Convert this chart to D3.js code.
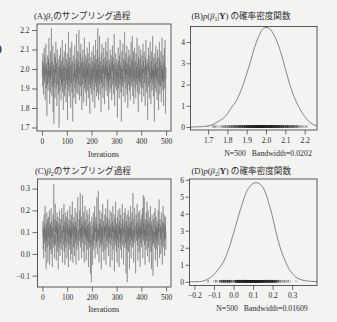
<!DOCTYPE html>
<html>
<head>
<meta charset="utf-8">
<script src="https://cdn.jsdelivr.net/npm/d3@7"></script>
<style>
  html, body { margin: 0; padding: 0; background: #f3f3f1; }
  svg { display: block; }
  text { fill: #2b2b2b; font-family: "Liberation Serif", "DejaVu Serif", "Noto Sans CJK JP", serif; }
</style>
</head>
<body>
<svg id="chart" width="337" height="322"></svg>
<script>
// MCMC draws of beta1 (iterations 1..500)
const beta1Samples = [
  1.96, 2.04, 1.91, 2.08, 1.99, 1.87, 2.02, 1.95, 2.11, 1.93, 1.98, 2.06, 1.84, 2.01, 1.97, 2.13, 1.90, 2.03, 1.94, 1.76, 2.00, 1.92, 2.07, 1.98, 1.89,
  2.05, 1.96, 2.16, 1.93, 1.99, 1.82, 2.03, 1.95, 2.09, 1.88, 2.01, 1.97, 2.21, 1.94, 1.86, 2.04, 1.99, 1.91, 2.12, 1.78, 1.97, 2.02, 1.72, 1.95, 2.08,
  1.93, 2.00, 1.85, 2.06, 1.98, 2.14, 1.90, 1.96, 2.03, 1.81, 1.99, 2.10, 1.92, 1.97, 2.05, 1.87, 1.94, 2.01, 1.70, 1.96, 2.07, 1.89, 2.02, 1.95, 2.11,
  1.98, 1.84, 2.04, 1.91, 2.00, 1.93, 2.15, 1.88, 1.97, 2.06, 1.79, 1.99, 2.02, 1.94, 2.09, 1.86, 2.01, 1.96, 1.90, 2.13, 1.97, 1.83, 2.05, 1.95, 2.00,
  1.92, 2.08, 1.74, 1.98, 2.03, 1.89, 2.19, 1.94, 2.01, 1.86, 2.06, 1.97, 1.91, 2.11, 1.96, 1.80, 2.02, 1.99, 1.93, 2.14, 1.88, 2.04, 1.95, 1.73, 2.00,
  2.07, 1.94, 1.98, 1.85, 2.03, 1.96, 2.12, 1.90, 2.00, 1.97, 1.82, 2.05, 1.93, 2.18, 1.99, 1.88, 2.02, 1.95, 2.09, 1.87, 1.99, 2.04, 1.92, 2.20, 1.96,
  1.84, 2.01, 1.97, 2.08, 1.91, 1.99, 2.13, 1.86, 2.03, 1.94, 1.79, 2.06, 1.98, 1.92, 2.10, 1.96, 2.00, 1.83, 2.04, 1.95, 2.16, 1.90, 1.98, 2.02, 1.88,
  2.07, 1.93, 1.99, 1.81, 2.05, 1.97, 2.11, 1.89, 2.01, 1.95, 2.08, 1.85, 1.98, 2.03, 1.92, 2.14, 1.96, 1.77, 2.02, 1.99, 1.90, 2.06, 1.94, 2.00, 1.87,
  2.09, 1.96, 1.92, 2.04, 1.83, 1.99, 2.12, 1.95, 2.01, 1.89, 2.07, 1.97, 1.80, 2.03, 1.93, 2.15, 1.98, 1.91, 2.05, 1.86, 2.00, 1.96, 2.10, 1.88, 2.21,
  1.94, 2.02, 1.84, 1.99, 2.06, 1.92, 2.17, 1.97, 1.87, 2.04, 1.95, 2.00, 1.78, 2.08, 1.93, 1.99, 2.13, 1.90, 2.02, 1.96, 1.85, 2.05, 1.98, 2.11, 1.91,
  2.00, 1.82, 2.06, 1.95, 2.02, 1.97, 2.14, 1.89, 1.99, 2.04, 1.93, 2.09, 1.86, 2.01, 1.96, 2.16, 1.91, 1.98, 1.79, 2.05, 1.94, 2.03, 1.99, 1.88, 2.10,
  1.95, 2.01, 1.90, 2.07, 1.97, 1.84, 2.04, 1.99, 2.12, 1.92, 1.98, 2.06, 1.87, 2.02, 1.94, 2.18, 1.96, 1.81, 2.03, 1.99, 1.91, 2.08, 1.97, 2.00, 1.89,
  2.05, 1.93, 1.98, 1.75, 2.02, 1.96, 2.11, 1.90, 2.04, 1.97, 1.85, 2.07, 1.99, 1.92, 2.15, 1.95, 2.01, 1.88, 2.03, 1.73, 1.97, 2.09, 1.94, 2.00, 1.91,
  2.13, 1.96, 1.86, 2.05, 1.99, 2.02, 1.93, 2.19, 1.98, 1.83, 2.04, 1.95, 2.08, 1.90, 2.00, 1.97, 2.12, 1.87, 2.03, 1.94, 1.80, 2.06, 1.99, 1.92, 2.10,
  1.96, 2.02, 1.89, 2.07, 1.97, 1.84, 2.01, 1.95, 2.14, 1.91, 1.99, 2.05, 1.93, 2.17, 1.98, 1.86, 2.03, 1.96, 2.09, 1.82, 2.00, 1.94, 2.11, 1.97, 1.90,
  2.04, 1.98, 1.85, 2.08, 1.95, 2.01, 1.92, 2.16, 1.97, 1.88, 2.03, 1.99, 1.78, 2.06, 1.94, 2.12, 1.96, 2.00, 1.87, 2.05, 1.93, 1.99, 2.10, 1.91, 2.02,
  1.97, 1.83, 2.07, 1.95, 2.00, 1.90, 2.13, 1.98, 2.04, 1.86, 1.99, 2.09, 1.93, 2.01, 1.96, 1.81, 2.06, 1.97, 2.15, 1.92, 2.02, 1.88, 1.98, 2.05, 1.94,
  1.74, 2.03, 1.99, 2.11, 1.91, 1.96, 2.07, 1.85, 2.01, 1.97, 2.14, 1.93, 1.98, 1.82, 2.04, 1.95, 2.09, 1.89, 2.00, 1.96, 2.17, 1.92, 1.99, 1.86, 2.06,
  1.94, 2.02, 1.73, 1.98, 2.08, 1.90, 2.03, 1.96, 2.12, 1.88, 2.00, 1.95, 2.05, 1.84, 1.99, 2.10, 1.93, 2.01, 1.97, 1.79, 2.06, 1.92, 2.14, 1.98, 1.87,
  2.04, 1.96, 1.91, 2.09, 1.99, 1.83, 2.02, 1.95, 2.16, 1.93, 2.00, 1.89, 2.07, 1.97, 1.81, 2.03, 1.94, 2.11, 1.98, 1.90, 2.15, 1.96, 1.77, 2.01, 1.95
];

// MCMC draws of beta2
const beta2Samples = [
  0.08, 0.15, 0.02, 0.12, -0.02, 0.10, 0.18, 0.05, 0.13, 0.07, 0.22, 0.01, 0.11, 0.09, -0.07, 0.14, 0.06, 0.19, 0.03, 0.10, 0.16, -0.04, 0.12, 0.08, 0.17,
  0.04, 0.11, 0.20, -0.05, 0.09, 0.14, 0.02, 0.13, 0.07, 0.21, 0.00, 0.10, 0.15, 0.06, -0.06, 0.12, 0.08, 0.18, 0.03, 0.11, 0.32, 0.05, 0.09, -0.02, 0.16,
  0.10, 0.23, 0.04, 0.13, 0.07, -0.03, 0.15, 0.09, 0.19, 0.01, 0.12, 0.06, 0.17, -0.07, 0.10, 0.14, 0.03, 0.11, 0.20, 0.08, -0.01, 0.13, 0.05, 0.16, 0.09,
  0.02, 0.14, 0.21, 0.07, 0.11, -0.04, 0.09, 0.18, 0.04, 0.13, 0.10, 0.23, 0.01, 0.08, 0.15, -0.05, 0.12, 0.06, 0.19, 0.03, 0.11, 0.17, 0.07, -0.02, 0.14,
  0.09, 0.20, 0.05, 0.12, -0.06, 0.10, 0.16, 0.02, 0.13, 0.08, 0.22, 0.04, 0.11, -0.03, 0.15, 0.07, 0.18, 0.00, 0.12, 0.09, 0.24, 0.06, -0.04, 0.14, 0.10,
  0.03, 0.17, 0.08, 0.13, -0.01, 0.11, 0.21, 0.05, 0.15, 0.09, -0.05, 0.12, 0.07, 0.19, 0.02, 0.10, 0.14, 0.26, 0.04, 0.11, 0.08, -0.03, 0.16, 0.06, 0.13,
  0.20, 0.09, 0.28, 0.03, 0.12, 0.07, 0.17, -0.02, 0.11, 0.14, 0.05, 0.27, 0.08, 0.13, 0.01, 0.10, 0.19, 0.06, -0.04, 0.15, 0.09, 0.22, 0.04, 0.12, 0.07,
  0.16, -0.03, 0.11, 0.08, 0.20, 0.02, 0.13, 0.06, 0.18, 0.10, -0.06, 0.14, 0.05, 0.09, 0.21, 0.03, 0.12, 0.07, -0.09, 0.15, 0.10, 0.01, -0.13, 0.11, 0.17,
  0.04, 0.09, -0.05, 0.13, 0.07, 0.19, 0.02, 0.11, 0.15, 0.06, 0.22, 0.08, -0.02, 0.12, 0.10, 0.17, 0.03, 0.14, 0.05, 0.26, 0.09, 0.00, 0.12, 0.07, 0.18,
  0.29, 0.06, 0.11, -0.04, 0.14, 0.08, 0.20, 0.03, 0.10, 0.16, 0.05, 0.13, -0.07, 0.09, 0.19, 0.04, 0.12, 0.07, 0.23, 0.01, 0.11, 0.15, 0.06, -0.03, 0.13,
  0.08, 0.18, 0.02, 0.12, 0.10, 0.21, -0.05, 0.09, 0.14, 0.06, 0.17, 0.03, 0.11, 0.25, 0.07, 0.13, -0.01, 0.10, 0.16, 0.05, 0.12, 0.08, 0.20, -0.06, 0.11,
  0.14, 0.04, 0.09, 0.19, 0.07, 0.12, -0.03, 0.15, 0.10, 0.22, 0.02, 0.08, 0.13, 0.06, 0.18, -0.08, 0.11, 0.09, 0.16, 0.04, 0.24, 0.07, 0.12, 0.01, 0.14,
  0.10, -0.04, 0.17, 0.06, 0.11, 0.20, 0.03, 0.13, 0.08, -0.06, 0.15, 0.09, 0.21, 0.05, 0.12, 0.02, 0.18, 0.07, 0.11, -0.02, 0.14, 0.09, 0.23, 0.04, 0.10,
  0.16, 0.06, -0.05, 0.12, 0.08, 0.19, 0.03, 0.14, 0.10, 0.21, 0.05, 0.11, -0.09, 0.07, 0.15, 0.02, 0.18, -0.13, 0.09, 0.13, 0.06, 0.20, 0.01, 0.12, 0.08,
  0.17, -0.07, 0.10, 0.14, 0.04, 0.22, 0.08, 0.12, -0.02, 0.15, 0.06, 0.19, 0.09, 0.03, 0.13, 0.28, 0.07, 0.11, -0.04, 0.16, 0.05, 0.10, 0.21, 0.08, 0.13,
  0.02, -0.09, 0.12, 0.18, 0.06, 0.14, 0.09, 0.23, 0.04, 0.11, -0.03, 0.15, 0.07, 0.19, 0.10, 0.01, 0.13, 0.08, 0.20, -0.06, 0.12, 0.05, 0.16, 0.09, 0.14,
  0.03, 0.18, 0.10, 0.07, 0.21, -0.02, 0.12, 0.27, 0.06, 0.14, 0.09, 0.26, 0.04, 0.11, -0.05, 0.16, 0.08, 0.13, 0.02, 0.19, 0.10, 0.06, 0.24, 0.12, -0.01,
  0.15, 0.08, 0.20, 0.03, 0.11, 0.14, -0.04, 0.09, 0.17, 0.06, 0.12, 0.22, 0.01, 0.10, 0.15, -0.07, 0.13, 0.08, 0.18, 0.04, 0.11, -0.10, 0.09, 0.16, 0.05,
  0.12, 0.19, 0.03, 0.10, 0.07, 0.21, -0.03, 0.13, 0.09, 0.17, 0.02, 0.11, 0.06, 0.15, -0.06, 0.12, 0.08, 0.20, 0.04, 0.14, 0.10, 0.25, 0.05, -0.02, 0.11,
  0.16, 0.07, 0.13, 0.00, 0.09, 0.19, 0.04, 0.12, 0.08, -0.05, 0.15, 0.10, 0.22, 0.03, 0.11, 0.14, 0.06, 0.18, -0.01, 0.09, 0.13, 0.07, 0.17, 0.02, 0.10
];

const beta1DensX = [1.609, 1.65, 1.70, 1.73, 1.76, 1.78, 1.80, 1.82, 1.85, 1.88, 1.90, 1.92, 1.94, 1.96, 1.98, 2.00, 2.02, 2.04, 2.06, 2.08, 2.10, 2.12, 2.14, 2.17, 2.20, 2.23, 2.264];
const beta1DensY = [0.00, 0.01, 0.05, 0.14, 0.30, 0.42, 0.62, 0.90, 1.30, 1.95, 2.50, 3.10, 3.72, 4.22, 4.58, 4.69, 4.62, 4.35, 3.95, 3.40, 2.75, 2.10, 1.55, 0.95, 0.50, 0.20, 0.05];
const beta2DensX = [-0.225, -0.20, -0.175, -0.15, -0.124, -0.10, -0.09, -0.07, -0.047, -0.025, -0.005, 0.01, 0.029, 0.045, 0.063, 0.08, 0.097, 0.11, 0.122, 0.135, 0.147, 0.165, 0.181, 0.20, 0.215, 0.23, 0.249, 0.265, 0.283, 0.30, 0.317, 0.335, 0.351, 0.38, 0.40, 0.427];
const beta2DensY = [0.00, 0.00, 0.01, 0.06, 0.20, 0.42, 0.55, 0.85, 1.27, 1.90, 2.65, 3.25, 4.00, 4.60, 5.20, 5.55, 5.75, 5.82, 5.82, 5.75, 5.60, 5.20, 4.60, 3.80, 3.04, 2.35, 1.67, 1.20, 0.78, 0.50, 0.29, 0.17, 0.10, 0.04, 0.02, 0.01];

// tick labels
const iterTicks = [0, 100, 200, 300, 400, 500];
const beta1TraceTicks = [1.7, 1.8, 1.9, 2.0, 2.1, 2.2];
const beta2TraceTicks = [-0.1, 0.0, 0.1, 0.2, 0.3];
const beta1DensXTicks = [1.7, 1.8, 1.9, 2.0, 2.1, 2.2];
const beta1DensYTicks = [0, 1, 2, 3, 4];
const beta2DensXTicks = [-0.2, -0.1, 0.0, 0.1, 0.2, 0.3];
const beta2DensYTicks = [0, 1, 2, 3, 4, 5, 6];

const bandwidth1 = "0.0202";
const bandwidth2 = "0.01609";

const svg = d3.select('#chart');
const ink = '#333';

// small helper: title with italic beta and subscript
function addTitle(x, y, letter, idx, kind) {
  const t = svg.append('text').attr('x', x).attr('y', y).style('font-size', '8.6px');
  t.append('tspan').text('(' + letter + ')');
  if (kind === 'trace') {
    t.append('tspan').style('font-style', 'italic').text('β');
    t.append('tspan').attr('dy', 2).style('font-size', '6px').text(idx);
    t.append('tspan').attr('dy', -2).text('のサンプリング過程');
  } else {
    t.append('tspan').style('font-style', 'italic').text('p');
    t.append('tspan').text('(');
    t.append('tspan').style('font-style', 'italic').text('β');
    t.append('tspan').attr('dy', 2).style('font-size', '6px').text(idx);
    t.append('tspan').attr('dy', -2).text('|');
    t.append('tspan').style('font-weight', 'bold').text('Y');
    t.append('tspan').text(') の確率密度関数');
  }
}

function styleAxis(g) {
  g.select('.domain').remove();
  g.selectAll('line').attr('stroke', ink).attr('stroke-width', 0.7);
  g.selectAll('text')
    .style('font-family', '"Liberation Serif", "DejaVu Serif", serif')
    .style('font-size', '7.5px')
    .style('fill', '#2b2b2b');
}

function drawTrace(box, samples, yDomain, yTicks, xlabelY) {
  const x = d3.scaleLinear().domain([-19.96, 519.96]).range([box.left, box.right]);
  const y = d3.scaleLinear().domain(yDomain).range([box.bottom, box.top]);

  svg.append('path')
    .datum(samples)
    .attr('fill', 'none')
    .attr('stroke', '#5a5a5a')
    .attr('stroke-width', 0.45)
    .attr('stroke-opacity', 0.9)
    .attr('d', d3.line().x((d, i) => x(i + 1)).y(d => y(d)));

  svg.append('rect')
    .attr('x', box.left).attr('y', box.top)
    .attr('width', box.right - box.left).attr('height', box.bottom - box.top)
    .attr('fill', 'none').attr('stroke', ink).attr('stroke-width', 0.8);

  svg.append('g')
    .attr('transform', `translate(0,${box.bottom})`)
    .call(d3.axisBottom(x).tickValues(iterTicks).tickSize(4.5).tickPadding(3).tickFormat(d3.format('d')))
    .call(styleAxis);

  svg.append('g')
    .attr('transform', `translate(${box.left},0)`)
    .call(d3.axisLeft(y).tickValues(yTicks).tickSize(5).tickPadding(2.5).tickFormat(d3.format('.1f')))
    .call(styleAxis)
    .selectAll('text').text(d => d3.format('.1f')(d).replace('-', '\u2212'));

  svg.append('text')
    .attr('x', (box.left + box.right) / 2 - 0.5)
    .attr('y', xlabelY)
    .attr('text-anchor', 'middle')
    .style('font-size', '8.2px')
    .text('Iterations');
}

function drawDensity(box, densX, densY, samples, xDomain, yDomain, xTicks, yTicks, bw, noteX, noteY) {
  const x = d3.scaleLinear().domain(xDomain).range([box.left, box.right]);
  const y = d3.scaleLinear().domain(yDomain).range([box.bottom, box.top]);
  const pts = densX.map((v, i) => [v, densY[i]]);

  // rug of the draws along the zero line (overlapping ticks build a dark band)
  svg.append('g')
    .selectAll('line')
    .data(samples)
    .join('line')
      .attr('x1', d => x(d)).attr('x2', d => x(d))
      .attr('y1', y(0) - 1.8).attr('y2', y(0) + 0.8)
      .attr('stroke', '#222')
      .attr('stroke-width', 1.6)
      .attr('stroke-opacity', 0.22);

  svg.append('path')
    .datum(pts)
    .attr('fill', 'none')
    .attr('stroke', '#555')
    .attr('stroke-width', 0.7)
    .attr('d', d3.line().x(d => x(d[0])).y(d => y(d[1])).curve(d3.curveMonotoneX));

  svg.append('rect')
    .attr('x', box.left).attr('y', box.top)
    .attr('width', box.right - box.left).attr('height', box.bottom - box.top)
    .attr('fill', 'none').attr('stroke', ink).attr('stroke-width', 0.8);

  svg.append('g')
    .attr('transform', `translate(0,${box.bottom})`)
    .call(d3.axisBottom(x).tickValues(xTicks).tickSize(4.5).tickPadding(3))
    .call(styleAxis)
    .selectAll('text').text(d => d3.format('.1f')(d).replace('-', '\u2212'));

  svg.append('g')
    .attr('transform', `translate(${box.left},0)`)
    .call(d3.axisLeft(y).tickValues(yTicks).tickSize(4).tickPadding(1.5).tickFormat(d3.format('d')))
    .call(styleAxis);

  svg.append('text')
    .attr('x', noteX)
    .attr('y', noteY)
    .attr('text-anchor', 'middle')
    .style('font-size', '7.8px')
    .attr('xml:space', 'preserve')
    .text('N=' + samples.length + '   Bandwidth=' + bw);
}

// edge of the neighbouring page text
svg.append('text').attr('x', -1.5).attr('y', 52).style('font-size', '10px').style('font-weight', 'bold').text(')');

// (A) trace of beta1
addTitle(34, 18.5, 'A', '1', 'trace');
drawTrace({ left: 37, right: 171, top: 24, bottom: 131 }, beta1Samples, [1.682, 2.231], beta1TraceTicks, 157);

// (B) density of beta1
addTitle(191.5, 18.5, 'B', '1', 'dens');
drawDensity({ left: 190.5, right: 317, top: 26.5, bottom: 130 }, beta1DensX, beta1DensY, beta1Samples,
  [1.609, 2.264], [-0.14, 4.73], beta1DensXTicks, beta1DensYTicks, bandwidth1, 268, 156);

// (C) trace of beta2
addTitle(35, 173.5, 'C', '2', 'trace');
drawTrace({ left: 37.5, right: 171, top: 179, bottom: 287 }, beta2Samples, [-0.152, 0.344], beta2TraceTicks, 312);

// (D) density of beta2
addTitle(191.5, 173.5, 'D', '2', 'dens');
drawDensity({ left: 189.5, right: 317, top: 179, bottom: 285.5 }, beta2DensX, beta2DensY, beta2Samples,
  [-0.225, 0.427], [-0.22, 6.04], beta2DensXTicks, beta2DensYTicks, bandwidth2, 262, 311);
</script>
</body>
</html>
